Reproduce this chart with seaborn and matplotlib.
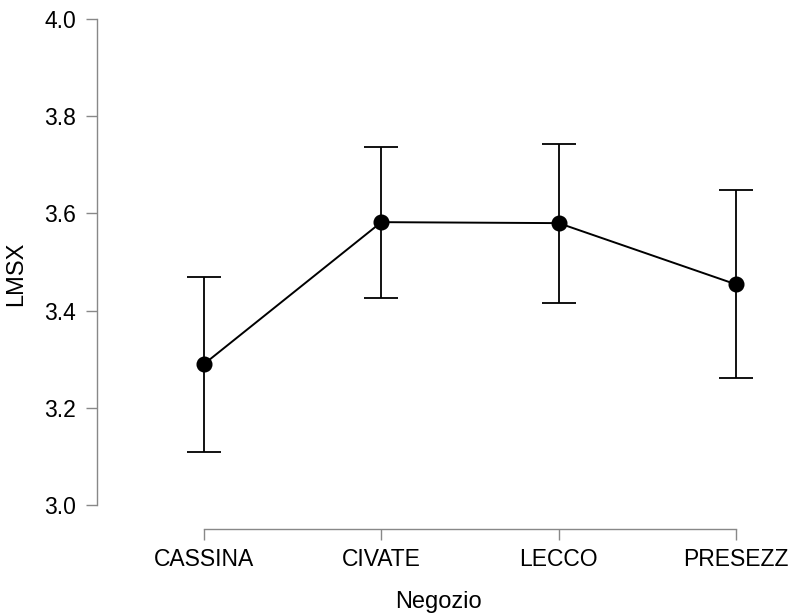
import numpy as np
import matplotlib
matplotlib.use('Agg')
import matplotlib.pyplot as plt
import seaborn as sns

# descriptives plot: LMSX per Negozio (mean + 95% CI)
negozio = ['CASSINA', 'CIVATE', 'LECCO', 'PRESEZZ']
lmsx_mean = [3.290, 3.582, 3.580, 3.454]
ci_lower = [3.109, 3.425, 3.416, 3.261]
ci_upper = [3.469, 3.737, 3.743, 3.649]

sns.set_style('white')
plt.rcParams['font.family'] = ['Liberation Sans', 'DejaVu Sans']

fig = plt.figure(figsize=(7.95, 6.13), dpi=100)
ax = fig.add_axes([97/795, 1 - 529/613, (780 - 97)/795, (529 - 19)/613])

x = np.arange(len(negozio))
yerr = [np.array(lmsx_mean) - np.array(ci_lower), np.array(ci_upper) - np.array(lmsx_mean)]
ax.errorbar(x, lmsx_mean, yerr=yerr, fmt='none', ecolor='black', elinewidth=1.3,
            capsize=12, capthick=1.3, zorder=2)
sns.pointplot(x=negozio, y=lmsx_mean, color='black', errorbar=None, markers='o',
              markersize=10.5, linewidth=1.4, ax=ax, zorder=3)

ax.set_xlim(-107/177.3, 3 + 44/177.3)
ax.set_ylim(3.0 - 24/486, 4.0)
ax.set_yticks([3.0, 3.2, 3.4, 3.6, 3.8, 4.0])
ax.set_yticklabels(['3.0', '3.2', '3.4', '3.6', '3.8', '4.0'])

for s in ['top', 'right']:
    ax.spines[s].set_visible(False)
ax.spines['left'].set_bounds(3.0, 4.0)
ax.spines['bottom'].set_bounds(0, 3)
for s in ['left', 'bottom']:
    ax.spines[s].set_color('#888888')
    ax.spines[s].set_linewidth(1.0)

ax.tick_params(axis='both', which='major', left=True, bottom=True, length=8, width=1.0,
               color='#888888', labelsize=16.5, labelcolor='black', direction='out')
ax.tick_params(axis='y', pad=7)
ax.tick_params(axis='x', pad=6)

ax.set_xlabel('Negozio', fontsize=17, color='black', labelpad=14)
ax.set_ylabel('LMSX', fontsize=17, color='black', labelpad=12)

plt.savefig('out.png', dpi=100)
